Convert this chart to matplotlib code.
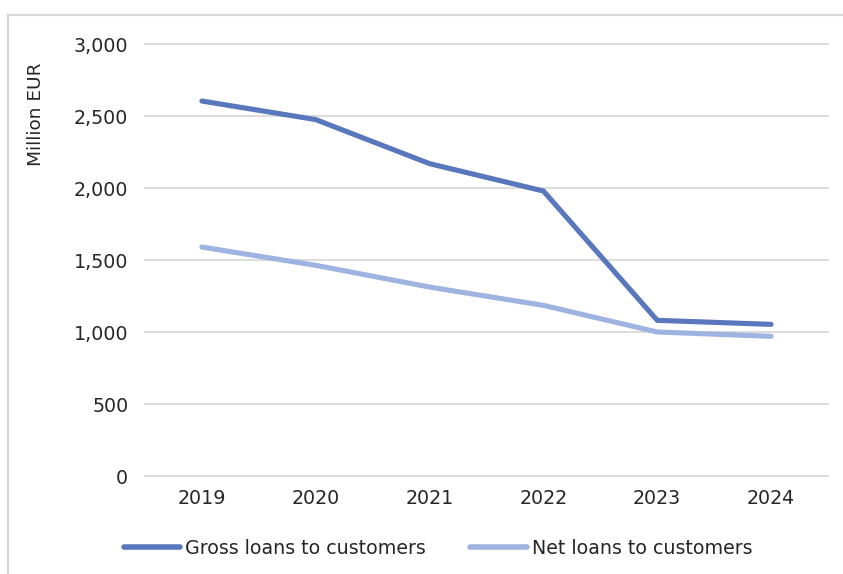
import matplotlib
matplotlib.use("Agg")
import matplotlib.pyplot as plt
from matplotlib.lines import Line2D
from matplotlib.ticker import FuncFormatter

years = ["2019", "2020", "2021", "2022", "2023", "2024"]
gross_loans = [2604, 2475, 2169, 1979, 1081, 1053]
net_loans = [1590, 1463, 1312, 1185, 1000, 970]
y_ticks = [0, 500, 1000, 1500, 2000, 2500, 3000]

W, H = 843, 574
fig = plt.figure(figsize=(W / 100, H / 100), dpi=100)
fig.patch.set_facecolor("white")

# light frame along the top and left edge
fig.add_artist(Line2D([8 / W, 1], [1 - 15 / H, 1 - 15 / H], color="#d9d9d9", lw=1.6))
fig.add_artist(Line2D([8 / W, 8 / W], [0, 1 - 15 / H], color="#d9d9d9", lw=1.6))

left, right, top, bottom = 145, 828, 44, 476
ax = fig.add_axes([left / W, 1 - bottom / H, (right - left) / W, (bottom - top) / H])

x = list(range(len(years)))
c_gross = "#5877bd"
c_net = "#9fb3e1"
ax.plot(x, gross_loans, color=c_gross, lw=3.7, solid_capstyle="round",
        solid_joinstyle="round", label="Gross loans to customers", zorder=3)
ax.plot(x, net_loans, color=c_net, lw=3.7, solid_capstyle="round",
        solid_joinstyle="round", label="Net loans to customers", zorder=2)

ax.set_xlim(-0.5, len(years) - 0.5)
ax.set_ylim(0, 3000)
ax.set_yticks(y_ticks)
ax.yaxis.set_major_formatter(FuncFormatter(lambda v, p: f"{int(v):,}"))
ax.set_xticks(x)
ax.set_xticklabels(years)
ax.grid(axis="y", color="#d9d9d9", lw=1.3)
for gl in ax.get_ygridlines():
    gl.set_clip_on(False)
ax.set_axisbelow(True)
for s in ax.spines.values():
    s.set_visible(False)
ax.tick_params(axis="both", length=0, labelsize=13.7, colors="#262626")
ax.tick_params(axis="y", pad=12)
ax.tick_params(axis="x", pad=9)

fig.text(36 / W, 1 - 114 / H, "Million EUR", rotation=90, ha="center", va="center",
         fontsize=13.3, color="#262626")

leg = fig.legend(loc="center", bbox_to_anchor=(438 / W, 1 - 548 / H), ncol=2,
                 frameon=False, handlelength=2.95, handletextpad=0.26,
                 columnspacing=2.35, fontsize=13.7)
for t in leg.get_texts():
    t.set_color("#262626")
for h in leg.legend_handles:
    h.set_linewidth(4)

fig.savefig("out.png", dpi=100, facecolor="white")
